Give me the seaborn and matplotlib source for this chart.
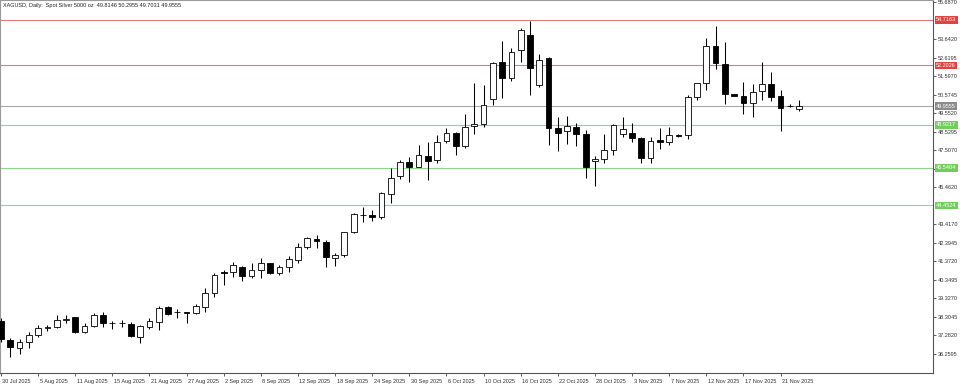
import numpy as np
import pandas as pd
import matplotlib
matplotlib.use("Agg")
import matplotlib.pyplot as plt
import matplotlib.transforms as mtransforms
import seaborn as sns

# ---------------- data ----------------
opens = [38.075, 37.007, 36.548, 36.880, 37.284, 37.680, 37.711, 38.140, 38.269, 37.467,
         37.782, 38.391, 37.940, 37.930, 37.897, 37.190, 37.744, 38.025, 38.850, 38.541,
         38.541, 38.485, 38.850, 39.630, 40.745, 40.787, 41.064, 40.549, 40.881, 41.252,
         40.699, 41.064, 41.436, 42.137, 42.597, 42.447, 41.529, 41.712, 43.001, 43.920,
         43.925, 43.798, 45.087, 46.083, 46.874, 46.599, 47.190, 46.941, 48.020, 48.446,
         47.743, 48.867, 48.944, 50.344, 52.408, 51.523, 53.056, 53.886, 51.119, 52.629,
         48.723, 48.574, 48.778, 48.391, 46.911, 47.021, 47.497, 48.391, 48.446, 48.170,
         47.063, 48.076, 47.982, 48.369, 48.352, 50.477, 51.213, 53.278, 52.263, 50.604,
         50.510, 50.106, 50.787, 51.175, 50.510, 49.980, 49.8146]
highs = [38.225, 37.118, 37.046, 37.467, 37.837, 37.837, 38.391, 38.391, 38.302, 37.937,
         38.485, 38.578, 38.064, 38.114, 38.025, 37.837, 38.208, 38.889, 38.889, 38.712,
         38.578, 39.000, 39.869, 40.699, 40.881, 41.341, 41.103, 41.252, 41.529, 41.285,
         41.158, 41.656, 42.359, 42.724, 42.818, 42.541, 41.839, 43.000, 44.019, 44.351,
         44.202, 45.214, 46.509, 46.968, 47.118, 47.799, 47.982, 48.352, 48.723, 48.535,
         49.498, 51.213, 51.119, 52.408, 53.554, 53.150, 54.290, 54.661, 52.818, 52.684,
         49.348, 49.404, 49.000, 48.629, 47.165, 48.408, 48.961, 49.332, 49.033, 48.225,
         48.225, 48.723, 48.811, 48.408, 50.566, 51.213, 53.704, 54.401, 53.515, 50.620,
         51.269, 51.158, 52.375, 51.822, 50.842, 50.040, 50.2955]
lows = [36.897, 36.083, 36.233, 36.548, 37.157, 37.522, 37.688, 37.937, 37.412, 37.378,
        37.744, 37.744, 37.599, 37.711, 37.190, 36.825, 37.599, 37.561, 38.391, 38.208,
        37.970, 38.446, 38.578, 39.404, 40.051, 40.510, 40.289, 40.422, 40.422, 40.660,
        40.604, 40.787, 41.285, 42.026, 42.082, 41.064, 41.120, 41.583, 42.913, 43.554,
        43.609, 43.686, 44.572, 45.901, 45.773, 46.580, 45.862, 46.785, 47.893, 47.245,
        47.649, 48.391, 48.811, 50.012, 50.416, 51.340, 52.375, 50.566, 51.025, 47.799,
        47.483, 47.854, 47.743, 45.979, 45.504, 46.785, 47.245, 48.225, 47.982, 46.785,
        46.785, 47.561, 47.799, 48.260, 48.131, 50.289, 50.842, 52.004, 50.051, 50.510,
        49.498, 49.365, 50.289, 50.234, 48.574, 49.900, 49.7031]
closes = [37.046, 36.603, 36.880, 37.284, 37.655, 37.700, 38.114, 38.170, 37.467, 37.782,
          38.391, 37.937, 37.930, 37.950, 37.229, 37.782, 38.075, 38.762, 38.446, 38.550,
          38.485, 38.889, 39.592, 40.604, 40.725, 41.158, 40.549, 40.881, 41.252, 40.732,
          41.064, 41.474, 42.137, 42.635, 42.486, 41.583, 41.712, 42.968, 43.964, 43.930,
          43.798, 45.126, 45.990, 46.874, 46.599, 47.245, 46.930, 47.948, 48.446, 47.743,
          48.811, 48.944, 50.012, 52.319, 51.490, 52.929, 54.163, 52.076, 52.502, 48.723,
          48.490, 48.850, 48.408, 46.598, 47.021, 47.497, 48.906, 48.668, 48.203, 47.063,
          48.042, 47.982, 48.336, 48.314, 50.477, 51.213, 53.278, 52.319, 50.621, 50.527,
          50.106, 50.749, 51.175, 50.477, 49.863, 49.950, 49.9555]

date_labels = ["30 Jul 2025", "5 Aug 2025", "11 Aug 2025", "15 Aug 2025", "21 Aug 2025",
               "27 Aug 2025", "2 Sep 2025", "8 Sep 2025", "12 Sep 2025", "18 Sep 2025",
               "24 Sep 2025", "30 Sep 2025", "6 Oct 2025", "10 Oct 2025", "16 Oct 2025",
               "22 Oct 2025", "28 Oct 2025", "3 Nov 2025", "7 Nov 2025", "12 Nov 2025",
               "17 Nov 2025", "21 Nov 2025"]
date_label_bars = [0, 4, 8, 12, 16, 20, 24, 28, 32, 36, 40, 44, 48, 52, 56, 60, 64, 68,
                   72, 76, 80, 84]

price_ticks = [36.2595, 37.2820, 38.3045, 39.3270, 40.3495, 41.3720, 42.3945, 43.4170,
               45.4620, 46.4845, 47.5070, 48.5295, 49.5520, 50.5745, 51.5970, 52.6195,
               53.6420, 55.6870]

resistance_levels = [54.7163, 52.2026]
support_levels = [48.9217, 46.5404, 44.4524]
last_price = 49.9555

title_text = "XAGUSD, Daily:  Spot Silver 5000 oz  49.8146 50.2955 49.7031 49.9555"

# ---------------- styling ----------------
sns.set_theme(style="white")
plt.rcParams["font.family"] = ["Liberation Sans", "DejaVu Sans"]

df = pd.DataFrame({"open": opens, "high": highs, "low": lows, "close": closes})
df["bar"] = np.arange(len(df))
df["up"] = df["close"] >= df["open"]

W, H = 960, 385
fig = plt.figure(figsize=(W / 100, H / 100), dpi=100)
fig.patch.set_facecolor("white")
ax = fig.add_axes([0.0, 12 / H, 933 / W, 373 / H])
ax.set_facecolor("white")

px_per_bar = 9.28
ax.set_xlim(-1 / px_per_bar, 932 / px_per_bar)
ax.set_ylim(35.181, 55.823)

# level lines
red_line = "#e27a7a"
green_line = "#8fd68f"
grey_line = "#a8a8a8"
for lv in resistance_levels:
    ax.axhline(lv, color=red_line, lw=0.8, zorder=1)
for lv in support_levels:
    ax.axhline(lv, color=green_line, lw=0.8, zorder=1)
ax.axhline(last_price, color=grey_line, lw=0.8, zorder=1)

# wicks
ax.vlines(df["bar"], df["low"], df["high"], color="black", lw=0.75, zorder=2)
# bodies
body_w = 0.62
bottoms = np.minimum(df["open"], df["close"])
heights = np.maximum(np.abs(df["close"] - df["open"]), 0.02)
colors = np.where(df["up"], "white", "black")
ax.bar(df["bar"], heights, bottom=bottoms, width=body_w, color=colors,
       edgecolor="black", linewidth=0.6, zorder=3)

# axes frame
for side in ["left", "top"]:
    ax.spines[side].set_visible(True)
    ax.spines[side].set_color("#9a9a9a")
    ax.spines[side].set_linewidth(0.8)
for side in ["right", "bottom"]:
    ax.spines[side].set_visible(True)
    ax.spines[side].set_color("#555555")
    ax.spines[side].set_linewidth(0.8)

# y axis on the right
ax.yaxis.tick_right()
ax.set_yticks(price_ticks)
ax.set_yticklabels([f"{t:.4f}" for t in price_ticks])
ax.tick_params(axis="y", which="major", right=True, left=False, length=2.5, width=0.6,
               color="#444444", pad=1, labelsize=4.0, labelcolor="#333333")

# x axis ticks and labels (left aligned at the tick)
ax.set_xticks(date_label_bars)
ax.set_xticklabels(date_labels)
ax.tick_params(axis="x", which="major", bottom=True, length=2.5, width=0.6,
               color="#444444", pad=2, labelsize=4.0, labelcolor="#333333")
offset = mtransforms.ScaledTranslation(1.5 / 100, 0, fig.dpi_scale_trans)
for lbl in ax.get_xticklabels():
    lbl.set_horizontalalignment("left")
    lbl.set_transform(lbl.get_transform() + offset)

# price boxes on the right axis
trans = mtransforms.blended_transform_factory(ax.transAxes, ax.transData)
def price_box(v, fc):
    ax.text(1.0035, v, f"{v:.4f}", transform=trans, ha="left", va="center",
            fontsize=4.0, color="white", clip_on=False, zorder=10,
            bbox=dict(boxstyle="square,pad=0.25", fc=fc, ec="none"))

for lv in resistance_levels:
    price_box(lv, "#e5413f")
for lv in support_levels:
    price_box(lv, "#6fcf5a")
price_box(last_price, "#8c8c8c")

# title
ax.text(3 / 933, 1 - 5 / 373, title_text, transform=ax.transAxes, ha="left", va="center",
        fontsize=4.0, color="#222222", zorder=10)

fig.savefig("out.png", dpi=100, facecolor="white")
